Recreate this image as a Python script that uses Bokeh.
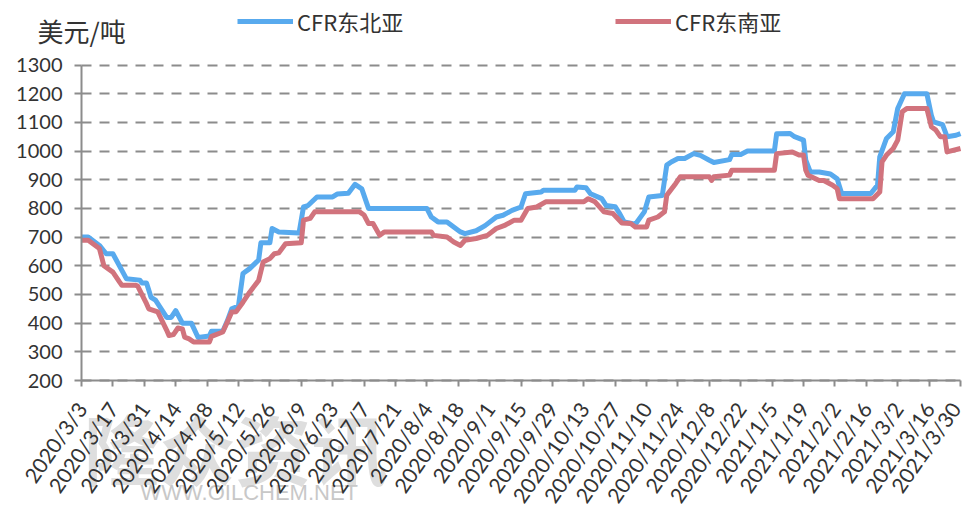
import pandas as pd
from bokeh.plotting import figure
from bokeh.models import Range1d, FixedTicker, Legend, LegendItem, Label, Grid
from bokeh.embed import file_html
from bokeh.resources import INLINE

start_date = "2020-03-03"
tick_labels = ["2020/3/3", "2020/3/17", "2020/3/31", "2020/4/14", "2020/4/28",
               "2020/5/12", "2020/5/26", "2020/6/9", "2020/6/23", "2020/7/7",
               "2020/7/21", "2020/8/4", "2020/8/18", "2020/9/1", "2020/9/15",
               "2020/9/29", "2020/10/13", "2020/10/27", "2020/11/10", "2020/11/24",
               "2020/12/8", "2020/12/22", "2021/1/5", "2021/1/19", "2021/2/2",
               "2021/2/16", "2021/3/2", "2021/3/16", "2021/3/30"]
y_ticks = [200, 300, 400, 500, 600, 700, 800, 900, 1000, 1100, 1200, 1300]
unit_label = "美元/吨"
watermark_cn = "隆众资讯"
watermark_url = "WWW.OILCHEM.NET"

series_ne = "CFR东北亚"
ne_dates = ["2020-03-03", "2020-03-06", "2020-03-11", "2020-03-14", "2020-03-17",
            "2020-03-23", "2020-03-29", "2020-03-30", "2020-04-01", "2020-04-03",
            "2020-04-05", "2020-04-10", "2020-04-12", "2020-04-14", "2020-04-17",
            "2020-04-21", "2020-04-24", "2020-04-29", "2020-04-30", "2020-05-05",
            "2020-05-07", "2020-05-09", "2020-05-12", "2020-05-14", "2020-05-17",
            "2020-05-21", "2020-05-22", "2020-05-26", "2020-05-27", "2020-05-30",
            "2020-06-08", "2020-06-10", "2020-06-12", "2020-06-16", "2020-06-23",
            "2020-06-25", "2020-06-30", "2020-07-03", "2020-07-06", "2020-07-09",
            "2020-08-04", "2020-08-06", "2020-08-09", "2020-08-13", "2020-08-19",
            "2020-08-21", "2020-08-26", "2020-08-30", "2020-09-04", "2020-09-07",
            "2020-09-11", "2020-09-15", "2020-09-17", "2020-09-24", "2020-09-25",
            "2020-10-09", "2020-10-10", "2020-10-14", "2020-10-16", "2020-10-21",
            "2020-10-23", "2020-10-27", "2020-10-29", "2020-10-31", "2020-11-05",
            "2020-11-09", "2020-11-11", "2020-11-17", "2020-11-19", "2020-11-21",
            "2020-11-24", "2020-11-27", "2020-12-01", "2020-12-04", "2020-12-08",
            "2020-12-10", "2020-12-17", "2020-12-18", "2020-12-22", "2020-12-25",
            "2021-01-06", "2021-01-07", "2021-01-13", "2021-01-15", "2021-01-19",
            "2021-01-20", "2021-01-22", "2021-01-26", "2021-01-31", "2021-02-03",
            "2021-02-05", "2021-02-18", "2021-02-21", "2021-02-22", "2021-02-25",
            "2021-02-28", "2021-03-02", "2021-03-05", "2021-03-15", "2021-03-17",
            "2021-03-18", "2021-03-22", "2021-03-24", "2021-03-28", "2021-03-30"]
ne_values = [700, 700, 671, 642, 642,
             555, 550, 540, 540, 490,
             480, 420, 420, 444, 400,
             400, 350, 355, 372, 372,
             407, 450, 460, 573, 590,
             620, 680, 680, 730, 718,
             714, 805, 810, 840, 840,
             850, 853, 884, 868, 800,
             800, 770, 753, 753, 718,
             712, 722, 740, 770, 776,
             793, 805, 851, 857, 863,
             863, 875, 872, 851, 834,
             810, 806, 782, 753, 745,
             788, 840, 845, 951, 962,
             974, 974, 991, 985, 968,
             960, 970, 988, 988, 1000,
             1000, 1060, 1061, 1050, 1038,
             968, 927, 927, 920, 903,
             852, 852, 881, 980, 1044,
             1067, 1148, 1200, 1200, 1125,
             1102, 1092, 1050, 1055, 1061]

series_se = "CFR东南亚"
se_dates = ["2020-03-03", "2020-03-06", "2020-03-11", "2020-03-13", "2020-03-17",
            "2020-03-20", "2020-03-21", "2020-03-27", "2020-03-28", "2020-04-01",
            "2020-04-02", "2020-04-06", "2020-04-10", "2020-04-11", "2020-04-13",
            "2020-04-15", "2020-04-17", "2020-04-18", "2020-04-20", "2020-04-22",
            "2020-04-29", "2020-04-30", "2020-05-05", "2020-05-07", "2020-05-09",
            "2020-05-11", "2020-05-14", "2020-05-17", "2020-05-21", "2020-05-23",
            "2020-05-26", "2020-05-28", "2020-05-30", "2020-06-02", "2020-06-09",
            "2020-06-10", "2020-06-13", "2020-06-15", "2020-07-05", "2020-07-07",
            "2020-07-09", "2020-07-11", "2020-07-14", "2020-07-16", "2020-08-06",
            "2020-08-07", "2020-08-13", "2020-08-16", "2020-08-19", "2020-08-21",
            "2020-08-26", "2020-08-31", "2020-09-04", "2020-09-08", "2020-09-12",
            "2020-09-15", "2020-09-18", "2020-09-22", "2020-09-26", "2020-10-13",
            "2020-10-15", "2020-10-18", "2020-10-22", "2020-10-26", "2020-10-30",
            "2020-11-03", "2020-11-05", "2020-11-10", "2020-11-11", "2020-11-15",
            "2020-11-18", "2020-11-19", "2020-11-23", "2020-11-25", "2020-12-08",
            "2020-12-09", "2020-12-10", "2020-12-17", "2020-12-18", "2021-01-06",
            "2021-01-07", "2021-01-14", "2021-01-17", "2021-01-19", "2021-01-20",
            "2021-01-21", "2021-01-26", "2021-01-28", "2021-02-01", "2021-02-03",
            "2021-02-04", "2021-02-19", "2021-02-22", "2021-02-23", "2021-02-25",
            "2021-02-28", "2021-03-02", "2021-03-04", "2021-03-06", "2021-03-15",
            "2021-03-17", "2021-03-19", "2021-03-21", "2021-03-23", "2021-03-24",
            "2021-03-30"]
se_values = [689, 689, 660, 600, 578,
             543, 532, 532, 530, 468,
             450, 439, 375, 357, 360,
             383, 380, 351, 345, 334,
             334, 354, 369, 403, 439,
             440, 473, 508, 549, 613,
             625, 642, 645, 677, 680,
             759, 765, 788, 788, 777,
             747, 747, 706, 718, 718,
             706, 700, 683, 671, 689,
             695, 706, 730, 742, 759,
             759, 800, 805, 823, 823,
             834, 823, 788, 782, 749,
             747, 735, 735, 759, 770,
             788, 846, 887, 910, 910,
             898, 910, 916, 933, 933,
             991, 997, 986, 986, 933,
             916, 897, 897, 881, 869,
             834, 834, 857, 962, 986,
             1009, 1038, 1137, 1148, 1148,
             1085, 1073, 1050, 1050, 997,
             1009]

t0 = pd.Timestamp(start_date)


def to_days(ds):
    return [int((pd.Timestamp(d) - t0).days) for d in ds]


ne_x = to_days(ne_dates)
se_x = to_days(se_dates)
tick_pos = to_days([s.replace("/", "-") for s in tick_labels])

# ---- layout (pixels) ----
W, H = 965, 509
PL, PR, PT, PB = 81, 960, 64.5, 380   # plot-area edges on the canvas
x0, x1 = tick_pos[0], tick_pos[-1]
y0, y1 = y_ticks[0], y_ticks[-1]
ppd = (PR - PL) / (x1 - x0)
upp = (y1 - y0) / (PB - PT)
x_range = Range1d(x0 - PL / ppd, x1 + (W - PR) / ppd)
y_range = Range1d(y0 - (H - PB) * upp, y1 + PT * upp)

TXT = "#333333"
AX = "#8c8c8c"
CJK = "Noto Sans CJK SC"

p = figure(width=W, height=H, output_backend="svg", toolbar_location=None,
           x_range=x_range, y_range=y_range)
p.min_border = 0
p.min_border_left = 0
p.min_border_right = 0
p.min_border_top = 0
p.min_border_bottom = 0
p.outline_line_color = None
p.background_fill_color = "white"
p.border_fill_color = "white"

# watermark, faint and behind everything
p.add_layout(Label(x=83, y=H - 446, x_units="screen", y_units="screen",
                   text=watermark_cn, text_font=CJK, text_font_size="76px",
                   text_font_style="bold", text_color="#dedede",
                   text_baseline="middle", level="underlay"))
p.add_layout(Label(x=140, y=H - 492, x_units="screen", y_units="screen",
                   text=watermark_url, text_font="Liberation Sans",
                   text_font_size="22px", text_color="#c8c8c8",
                   text_baseline="middle", level="underlay"))

# horizontal dashed grid, only across the plot area
p.xgrid.grid_line_color = None
if "cross_bounds" in Grid.properties():
    p.ygrid.ticker = FixedTicker(ticks=y_ticks)
    p.ygrid.cross_bounds = (x0, x1)
    p.ygrid.grid_line_color = AX
    p.ygrid.grid_line_width = 2
    p.ygrid.grid_line_dash = "10 8"
else:
    p.ygrid.grid_line_color = None
    p.segment(x0=[x0] * len(y_ticks), x1=[x1] * len(y_ticks), y0=y_ticks,
              y1=y_ticks, line_color=AX, line_width=2, line_dash="10 8")

r_ne = p.line(ne_x, ne_values, line_color="#58AAEE", line_width=5, line_join="round")
r_se = p.line(se_x, se_values, line_color="#D1737D", line_width=5, line_join="round")

xa = p.xaxis[0]
ya = p.yaxis[0]
xa.fixed_location = y0
xa.bounds = (x0, x1)
ya.fixed_location = x0
ya.bounds = (y0, y1)
for ax in (xa, ya):
    ax.axis_line_color = AX
    ax.axis_line_width = 2
    ax.major_tick_line_color = AX
    ax.major_tick_line_width = 2
    ax.major_tick_in = 0
    ax.minor_tick_line_color = None
    ax.major_label_text_font = "Lato"
    ax.major_label_text_font_size = "20px"
    ax.major_label_text_color = TXT

xa.ticker = FixedTicker(ticks=tick_pos)
xa.major_label_overrides = {t: s for t, s in zip(tick_pos, tick_labels)}
xa.major_label_orientation = 0.96
xa.major_label_text_font_size = "21px"
xa.major_tick_out = 6
xa.major_label_standoff = 18

ya.ticker = FixedTicker(ticks=y_ticks)
ya.major_tick_out = 7
ya.major_label_standoff = 12

for r, name, lx in ((r_ne, series_ne, 237), (r_se, series_se, 615)):
    leg = Legend(items=[LegendItem(label=name, renderers=[r])],
                 location=(lx, H - 37),
                 glyph_width=56, glyph_height=28, label_standoff=4, padding=0,
                 margin=0, border_line_color=None, background_fill_alpha=0,
                 label_text_font=CJK, label_text_font_size="22px",
                 label_text_color=TXT, label_height=28)
    p.add_layout(leg)

p.add_layout(Label(x=37, y=H - 30, x_units="screen", y_units="screen",
                   text=unit_label, text_font=CJK, text_font_size="26px",
                   text_color=TXT, text_baseline="middle"))

open("out.html", "w").write(file_html(p, INLINE))
